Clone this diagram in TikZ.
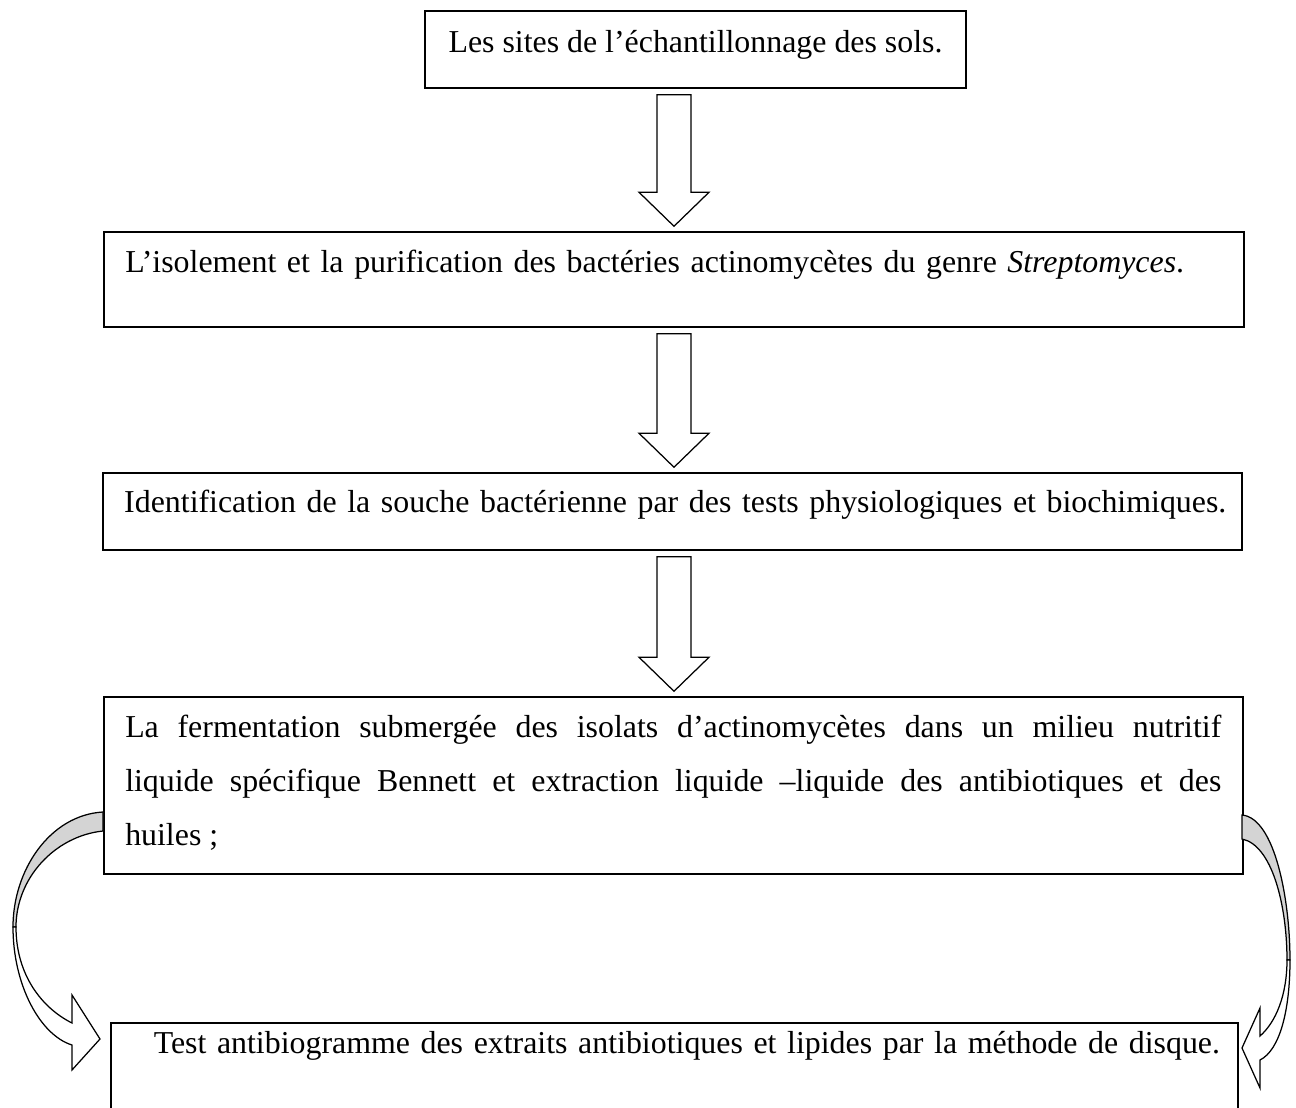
\documentclass[tikz,border=0pt]{standalone}
\usepackage{fontspec}
\setmainfont{Liberation Serif}
\usetikzlibrary{calc}
\definecolor{bandgray}{HTML}{D4D4D4}
\tikzset{
  box/.style={draw, line width=0.6pt, inner xsep=8.6pt, inner ysep=0pt, font=\fontsize{12.75pt}{21.6pt}\selectfont},
  longbox/.style={box, text width=#1, anchor=base west},
  blk/.style={draw, line width=0.5pt, fill=white},
  band/.style={blk, fill=bandgray},
}
% hollow block arrow from the bottom of #1 to the top of #2
\newcommand\flowarrow[2]{%
  \draw[blk] let \p1=(#1.south), \p2=(#2.north), \p3=(ax) in
    (\x3-6.8pt,\y1-2.4pt) -- (\x3+6.8pt,\y1-2.4pt) -- (\x3+6.8pt,\y2+15.6pt)
    -- (\x3+14pt,\y2+15.6pt) -- (\x3,\y2+2pt) -- (\x3-14pt,\y2+15.6pt)
    -- (\x3-6.8pt,\y2+15.6pt) -- cycle;}

\begin{document}
\begin{tikzpicture}[x=0.4pt, y=-0.4pt]
  \useasboundingbox (0,0) rectangle (1296,1108);
  \coordinate (ax) at (674,0);
  % the steps
  \node[box, minimum width=216.4pt, text height=16.4pt, text depth=14.4pt, anchor=base] (sites) at (695.5,52)
    {Les sites de l’échantillonnage des sols.};
  \node[longbox=438.8pt, align=left, text height=16pt, text depth=22pt] (isol) at (103,272)
    {L’isolement et la purification des bactéries actinomycètes du genre \textit{Streptomyces}.};
  \node[longbox=438.4pt, align=left, text height=15.6pt, text depth=15.2pt] (ident) at (102,512)
    {\makebox[\linewidth][s]{Identification de la souche bactérienne par des tests physiologiques et biochimiques.}};
  \node[longbox=438.4pt, align=justify, text height=16pt, text depth=54.8pt] (ferm) at (103,737)
    {La fermentation submergée des isolats d’actinomycètes dans un milieu nutritif\linebreak
     liquide spécifique Bennett et extraction liquide –liquide des antibiotiques et des\linebreak
     huiles ;};
  \node[longbox=433.6pt, align=left, text height=12pt, text depth=40pt] (test) at (110,1053)
    {\mbox{\hspace*{8.6pt}Test antibiogramme des extraits antibiotiques et lipides par la méthode de disque.}};
  % straight arrows
  \flowarrow{sites}{isol}
  \flowarrow{isol}{ident}
  \flowarrow{ident}{ferm}
  % curved arrows, left
  \draw[band] (103,812) .. controls (50,815) and (13,870) .. (13,927) -- (16,927)
    .. controls (16,878) and (55,836) .. (103,831) -- cycle;
  \draw[blk] (13,927) .. controls (13,985) and (40,1035) .. (72,1045) -- (72,1070) -- (100,1039)
    -- (72,995) -- (72,1023) .. controls (42,1008) and (16,975) .. (16,927) -- cycle;
  % curved arrows, right
  \draw[band] (1242,815) .. controls (1275,818) and (1290,900) .. (1290,960) -- (1287,960)
    .. controls (1287,905) and (1272,845) .. (1242,839) -- cycle;
  \draw[blk] (1290,960) .. controls (1290,1010) and (1280,1050) .. (1260,1060) -- (1260,1088)
    -- (1242,1048) -- (1260,1008) -- (1260,1036) .. controls (1276,1022) and (1287,995) .. (1287,960) -- cycle;
\end{tikzpicture}
\end{document}
